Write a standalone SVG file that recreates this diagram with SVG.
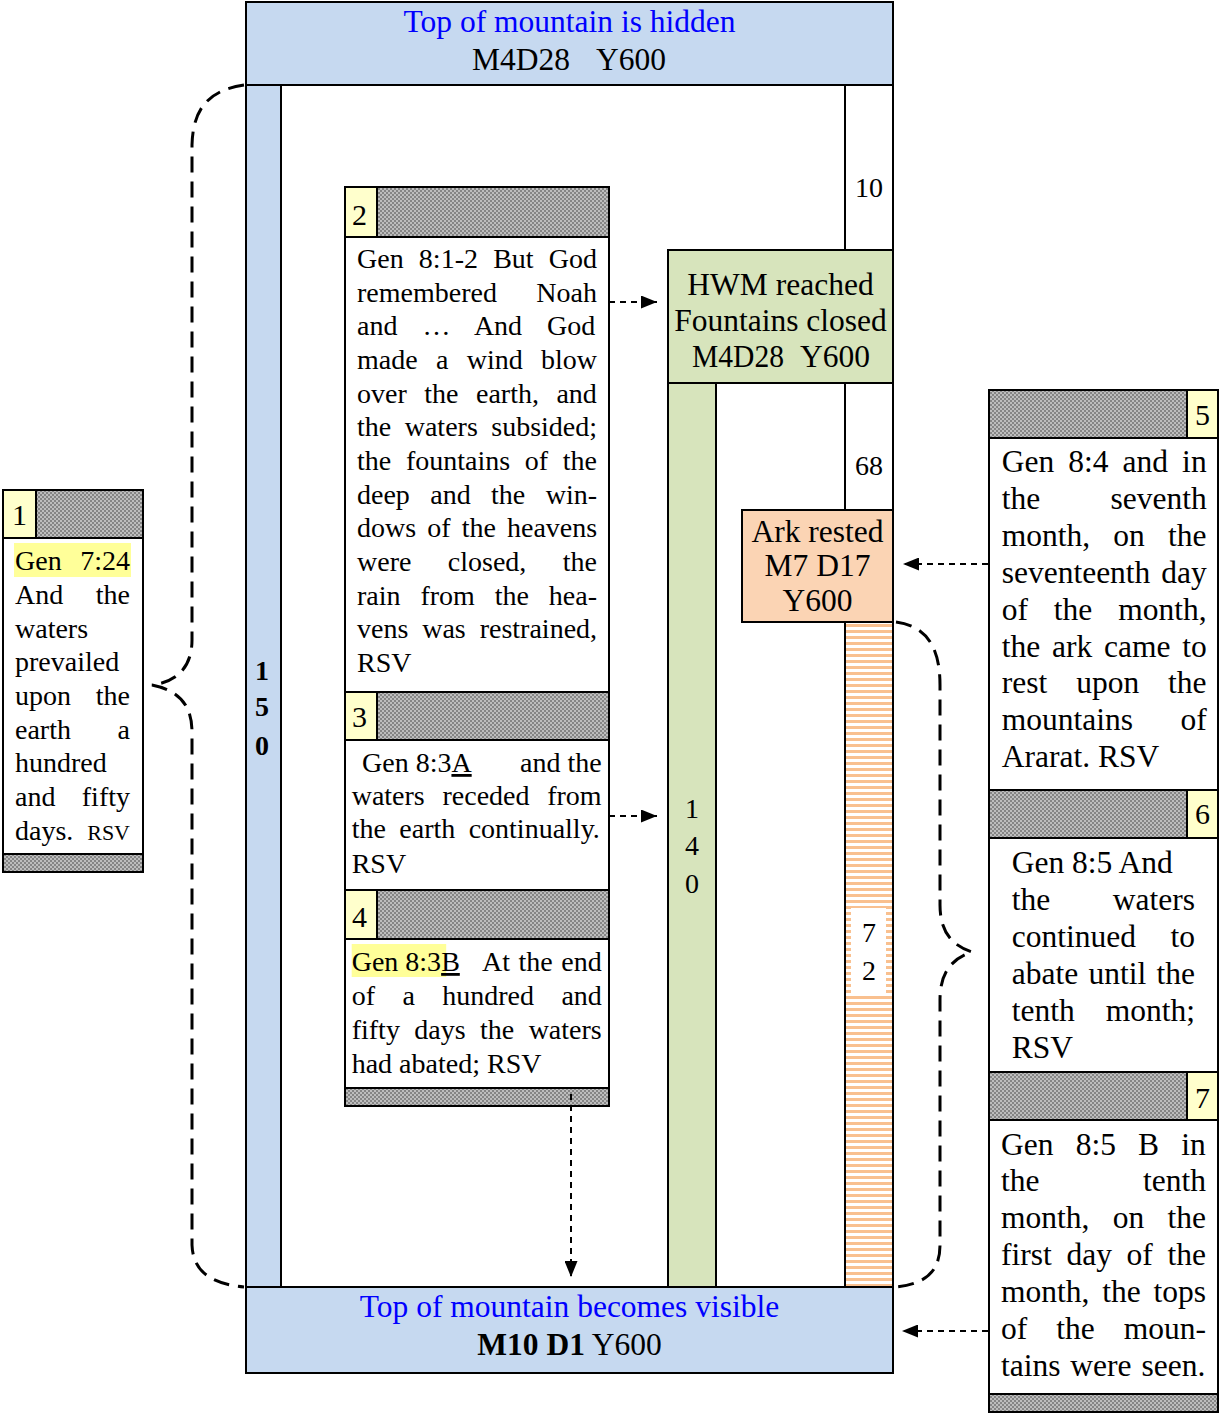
<svg xmlns="http://www.w3.org/2000/svg" width="1220" height="1414" viewBox="0 0 1220 1414">
<style>
text{font-family:"Liberation Serif","Times New Roman",serif;fill:#000}
.s{font-size:28px}
.m{font-size:31.5px}
.c{text-anchor:middle}
.r{text-anchor:end}
.b{font-weight:bold}
.blue{fill:#0000FF}
.ln{fill:none;stroke:#000;stroke-width:2}
.hd{fill:url(#hatch);stroke:#000;stroke-width:2}
.num{fill:#FFFFCC;stroke:#000;stroke-width:2}
.body{fill:#fff;stroke:#000;stroke-width:2}
.dash{fill:none;stroke:#000;stroke-width:2;stroke-dasharray:6 5}
.brace{fill:none;stroke:#000;stroke-width:3;stroke-dasharray:16 9}
</style>
<defs>
<pattern id="hatch" width="4" height="4" patternUnits="userSpaceOnUse"><rect width="4" height="4" fill="#858585"/><rect width="2" height="2" fill="#bdbdbd"/><rect x="2" y="2" width="2" height="2" fill="#bdbdbd"/></pattern>
<pattern id="stripe" width="6" height="6" patternUnits="userSpaceOnUse"><rect width="6" height="6" fill="#fff"/><rect width="6" height="3" fill="#F9C08F"/></pattern>
<marker id="ah" viewBox="0 0 16 13" refX="16" refY="6.5" markerWidth="16" markerHeight="13" markerUnits="userSpaceOnUse" orient="auto"><path d="M0,0 L16,6.5 L0,13 z" fill="#000"/></marker>
</defs>

<!-- Main frame -->
<g id="frame">
<rect x="246" y="2" width="647" height="1371" fill="#fff" stroke="#000" stroke-width="2"/>
<rect x="246" y="2" width="647" height="83" fill="#C6D9F0" stroke="#000" stroke-width="2"/>
<rect x="246" y="85" width="35" height="1202" fill="#C6D9F0" stroke="#000" stroke-width="2"/>
<rect x="246" y="1287" width="647" height="86" fill="#C6D9F0" stroke="#000" stroke-width="2"/>
<text class="m c blue" x="569.5" y="32">Top of mountain is hidden</text>
<text class="m" x="472" y="70">M4D28</text>
<text class="m r" x="666" y="70">Y600</text>
<text class="m c blue" x="569.5" y="1317">Top of mountain becomes visible</text>
<text class="m c" x="569.5" y="1355"><tspan class="b">M10 D1</tspan> Y600</text>
<text class="s c b" x="262" y="680">1</text>
<text class="s c b" x="262" y="716">5</text>
<text class="s c b" x="262" y="755">0</text>
</g>

<g id="col10">
<rect x="845" y="85" width="48" height="165" class="body"/>
<text class="s c" x="869" y="197">10</text>
</g>

<g id="hwm">
<rect x="668" y="250" width="225" height="133" fill="#D7E4BC" stroke="#000" stroke-width="2"/>
<text class="m c" x="780.5" y="295">HWM reached</text>
<text class="m c" x="780.5" y="331">Fountains closed</text>
<text class="m" x="692" y="367" textLength="92" lengthAdjust="spacingAndGlyphs">M4D28</text>
<text class="m r" x="870" y="367">Y600</text>
</g>

<g id="col140">
<rect x="668" y="383" width="48" height="904" fill="#D7E4BC" stroke="#000" stroke-width="2"/>
<text class="s c" x="692" y="818">1</text>
<text class="s c" x="692" y="855">4</text>
<text class="s c" x="692" y="893">0</text>
</g>

<g id="col68">
<rect x="845" y="383" width="48" height="127" class="body"/>
<text class="s c" x="869" y="475">68</text>
</g>

<g id="ark">
<rect x="742" y="510" width="151" height="112" fill="#FBD4B4" stroke="#000" stroke-width="2"/>
<text class="m c" x="817.5" y="542">Ark rested</text>
<text class="m c" x="817.5" y="576">M7 D17</text>
<text class="m c" x="817.5" y="611">Y600</text>
</g>

<g id="col72">
<rect x="845" y="622" width="48" height="665" fill="url(#stripe)" stroke="#000" stroke-width="2"/>
<rect x="851" y="908" width="35" height="85" fill="#fff"/>
<text class="s c" x="869" y="942">7</text>
<text class="s c" x="869" y="980">2</text>
</g>

<!-- Box 1 -->
<g id="box1">
<rect x="3" y="490" width="140" height="382" class="body"/>
<rect x="3" y="490" width="140" height="48" class="hd"/>
<rect x="3" y="490" width="33" height="48" class="num"/>
<text x="12" y="525" style="font-size:30px">1</text>
<rect x="3" y="854" width="140" height="18" class="hd"/>
<rect x="14" y="543" width="117" height="34" fill="#FFFF99"/>
<text class="s" x="15" y="570">Gen</text><text class="s r" x="130" y="570">7:24</text>
<text class="s" x="15" y="604">And</text><text class="s r" x="130" y="604">the</text>
<text class="s" x="15" y="638">waters</text>
<text class="s" x="15" y="671">prevailed</text>
<text class="s" x="15" y="705">upon</text><text class="s r" x="130" y="705">the</text>
<text class="s" x="15" y="739">earth</text><text class="s r" x="130" y="739">a</text>
<text class="s" x="15" y="772">hundred</text>
<text class="s" x="15" y="806">and</text><text class="s r" x="130" y="806">fifty</text>
<text class="s" x="15" y="840">days.</text><text class="r" x="130" y="840" style="font-size:22px">RSV</text>
</g>

<!-- Box 2 -->
<g id="box2">
<rect x="345" y="187" width="264" height="505" class="body"/>
<rect x="345" y="187" width="264" height="50" class="hd"/>
<rect x="345" y="187" width="32" height="50" class="num"/>
<text x="352" y="225" style="font-size:30px">2</text>
<text class="s" x="357" y="268" word-spacing="8.2">Gen 8:1-2 But God</text>
<text class="s" x="357" y="302">remembered</text><text class="s r" x="597" y="302">Noah</text>
<text class="s" x="357" y="335" word-spacing="18">and … And God</text>
<text class="s" x="357" y="369" word-spacing="11.3">made a wind blow</text>
<text class="s" x="357" y="403" word-spacing="10.5">over the earth, and</text>
<text class="s" x="357" y="436" word-spacing="6.5">the waters subsided;</text>
<text class="s" x="357" y="470" word-spacing="7.7">the fountains of the</text>
<text class="s" x="357" y="504" word-spacing="13.4">deep and the win-</text>
<text class="s" x="357" y="537" word-spacing="4.1">dows of the heavens</text>
<text class="s" x="357" y="571" word-spacing="29.4">were closed, the</text>
<text class="s" x="357" y="605" word-spacing="12.9">rain from the hea-</text>
<text class="s" x="357" y="638" word-spacing="6.9">vens was restrained,</text>
<text class="s" x="357" y="672">RSV</text>
</g>

<!-- Box 3 -->
<g id="box3">
<rect x="345" y="692" width="264" height="198" class="body"/>
<rect x="345" y="692" width="264" height="48" class="hd"/>
<rect x="345" y="692" width="32" height="48" class="num"/>
<text x="352" y="727" style="font-size:30px">3</text>
<text class="s" x="362" y="772">Gen 8:3<tspan text-decoration="underline">A</tspan></text>
<text class="s r" x="601.7" y="772">and the</text>
<text class="s" x="351.7" y="805" word-spacing="10.7">waters receded from</text>
<text class="s" x="351.7" y="838" word-spacing="6.4">the earth continually.</text>
<text class="s" x="351.7" y="873">RSV</text>
</g>

<!-- Box 4 -->
<g id="box4">
<rect x="345" y="890" width="264" height="216" class="body"/>
<rect x="345" y="890" width="264" height="49" class="hd"/>
<rect x="345" y="890" width="32" height="49" class="num"/>
<text x="352" y="927" style="font-size:30px">4</text>
<rect x="345" y="1088" width="264" height="18" class="hd"/>
<rect x="351.7" y="944" width="94.5" height="33" fill="#FFFF99"/>
<text class="s" x="351.7" y="971">Gen 8:3<tspan text-decoration="underline">B</tspan></text>
<text class="s r" x="601.7" y="971" word-spacing="1.5">At the end</text>
<text class="s" x="351.7" y="1005" word-spacing="20.4">of a hundred and</text>
<text class="s" x="351.7" y="1039" word-spacing="7.4">fifty days the waters</text>
<text class="s" x="351.7" y="1073">had abated; RSV</text>
</g>

<!-- Box 5 -->
<g id="box5">
<rect x="989" y="390" width="229" height="400" class="body"/>
<rect x="989" y="390" width="229" height="48" class="hd"/>
<rect x="1187" y="390" width="31" height="48" class="num"/>
<text class="c" x="1202.5" y="425" style="font-size:30px">5</text>
<text class="m" x="1001.7" y="472" word-spacing="6.2">Gen 8:4 and in</text>
<text class="m" x="1001.7" y="509">the</text><text class="m r" x="1206.7" y="509">seventh</text>
<text class="m" x="1001.7" y="546" word-spacing="15.4">month, on the</text>
<text class="m" x="1001.7" y="583">seventeenth</text><text class="m r" x="1206.7" y="583">day</text>
<text class="m" x="1001.7" y="620" word-spacing="18">of the month,</text>
<text class="m" x="1001.7" y="657" word-spacing="3.9">the ark came to</text>
<text class="m" x="1001.7" y="693" word-spacing="21.1">rest upon the</text>
<text class="m" x="1001.7" y="730">mountains</text><text class="m r" x="1206.7" y="730">of</text>
<text class="m" x="1001.7" y="767">Ararat. RSV</text>
</g>

<!-- Box 6 -->
<g id="box6">
<rect x="989" y="790" width="229" height="282" class="body"/>
<rect x="989" y="790" width="229" height="48" class="hd"/>
<rect x="1187" y="790" width="31" height="48" class="num"/>
<text class="c" x="1202.5" y="824" style="font-size:30px">6</text>
<text class="m" x="1011.7" y="873">Gen 8:5 And</text>
<text class="m" x="1011.7" y="910">the</text><text class="m r" x="1195" y="910">waters</text>
<text class="m" x="1011.7" y="947">continued</text><text class="m r" x="1195" y="947">to</text>
<text class="m" x="1011.7" y="984" word-spacing="2.4">abate until the</text>
<text class="m" x="1011.7" y="1021">tenth</text><text class="m r" x="1195" y="1021">month;</text>
<text class="m" x="1011.7" y="1058">RSV</text>
</g>

<!-- Box 7 -->
<g id="box7">
<rect x="989" y="1072" width="229" height="340" class="body"/>
<rect x="989" y="1072" width="229" height="48" class="hd"/>
<rect x="1187" y="1072" width="31" height="48" class="num"/>
<text class="c" x="1202.5" y="1108" style="font-size:30px">7</text>
<rect x="989" y="1394" width="229" height="18" class="hd"/>
<text class="m" x="1001" y="1155" word-spacing="14.3">Gen 8:5 B in</text>
<text class="m" x="1001" y="1191">the</text><text class="m r" x="1206" y="1191">tenth</text>
<text class="m" x="1001" y="1228" word-spacing="15.4">month, on the</text>
<text class="m" x="1001" y="1265" word-spacing="6.8">first day of the</text>
<text class="m" x="1001" y="1302" word-spacing="4.9">month, the tops</text>
<text class="m" x="1001" y="1339" word-spacing="21.1">of the moun-</text>
<text class="m" x="1001" y="1376" word-spacing="2">tains were seen.</text>
</g>

<!-- Connectors -->
<g id="connectors">
<line class="dash" x1="609" y1="302" x2="657" y2="302" marker-end="url(#ah)"/>
<line class="dash" x1="609" y1="816" x2="657" y2="816" marker-end="url(#ah)"/>
<line class="dash" x1="571" y1="1094" x2="571" y2="1277" marker-end="url(#ah)"/>
<line class="dash" x1="988" y1="564" x2="903" y2="564" marker-end="url(#ah)"/>
<line class="dash" x1="988" y1="1331" x2="902" y2="1331" marker-end="url(#ah)"/>
<path class="brace" d="M244 85 C212 90 193 105 192 145 L192 640 C192 668 176 682 152 685 C176 690 192 702 192 732 L192 1245 C193 1272 212 1284 244 1287"/>
<path class="brace" d="M896 622 C925 626 940 645 940 685 L940 905 C940 934 954 946 972 952 C954 958 940 970 940 1000 L940 1245 C940 1272 925 1284 896 1287"/>
</g>
</svg>
